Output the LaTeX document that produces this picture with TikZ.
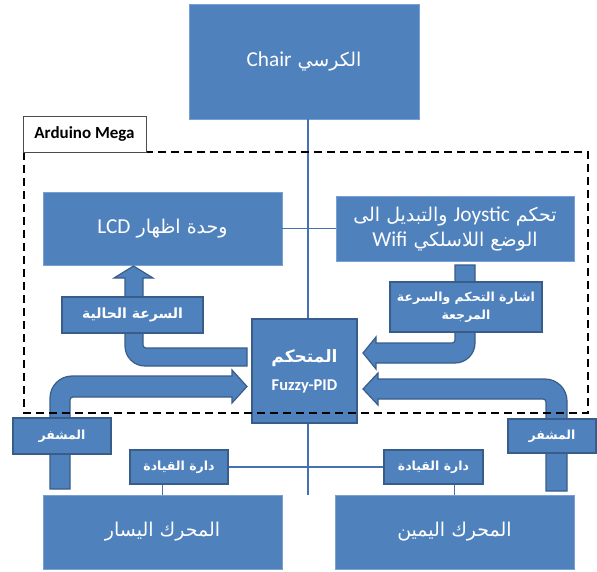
\documentclass[tikz,border=0pt]{standalone}
\usepackage{fontspec}
\setmainfont{Carlito}
\newfontfamily\latinfont[Scale=1.12]{Carlito}
\newfontfamily\arabicfont[Script=Arabic]{DejaVu Sans}
\TeXXeTstate=1
\usepackage{tikz}
\usetikzlibrary{positioning,calc}
\definecolor{boxblue}{RGB}{79,129,189}
\definecolor{boxedge}{RGB}{56,93,138}
\definecolor{lightedge}{RGB}{120,160,210}
\definecolor{wireblue}{RGB}{68,114,176}
\newcommand{\artext}[1]{{\arabicfont\beginR #1\endR}}
\newcommand{\lat}[1]{\beginL{\latinfont #1}\endL}
\tikzset{
  big box/.style={
    draw=lightedge,
    fill=boxblue,
    line width=0.8pt,
    text=white,
    inner sep=0pt,
    align=center,
    font=\fontsize{19}{28}\selectfont
  },
  tag box/.style={
    draw=boxedge,
    fill=boxblue,
    line width=1.5pt,
    text=white,
    inner sep=0pt,
    align=center,
    font=\fontsize{12.5}{18}\selectfont\bfseries
  },
  wire/.style={
    draw=wireblue,
    line width=1.5pt
  },
  fat arrow/.style={
    draw=boxedge,
    fill=boxblue,
    line width=1.2pt,
    line join=miter
  },
  mega frame/.style={
    draw=black,
    line width=2.2pt,
    dash pattern=on 8pt off 5pt
  }
}

\begin{document}
\begin{tikzpicture}[x=1pt,y=-1pt]
  \useasboundingbox (0,0) rectangle (597,572);
  \coordinate (spine) at (308,0);

  % Main blocks
  \node[big box, minimum width=230pt, minimum height=115pt] (chair) at (304,61.5) {\artext{الكرسي \lat{Chair}}};
  \node[big box, minimum width=239pt, minimum height=73pt] (lcd) at (162.5,228.5) {\artext{وحدة اظهار \lat{LCD}}};
  \node[big box, minimum width=238pt, minimum height=65pt] (joy) at (455,228.5) {\artext{تحكم \lat{Joystic} والتبديل الى}\\[-3pt] \artext{الوضع اللاسلكي \lat{Wifi}}};
  \node[big box, minimum width=239pt, minimum height=74pt] (motL) at (162.5,532) {\artext{المحرك اليسار}};
  \node[big box, minimum width=239pt, minimum height=74pt] (motR) at (454.5,532) {\artext{المحرك اليمين}};

  % Connections
  \draw[wire] (chair.south -| spine) -- (spine |- motL.north) coordinate (bus);
  \draw[wire] (lcd.east) -- (joy.west);

  % Signal arrows
  \draw[fat arrow] (247,348) -- (146,348) .. controls (144.3,348) and (143,346.7) .. (143,345)
    -- (143,278) -- (153,278) -- (133.5,266) -- (114,278) -- (125,278) -- (125,346)
    .. controls (125,357.05) and (133.95,366) .. (145,366) -- (247,366) -- cycle;
  \draw[fat arrow] (455,265) -- (475,265) -- (475,343)
    .. controls (475,354.05) and (466.05,363) .. (455,363) -- (376,363) -- (376,369)
    -- (363,353) -- (376,337) -- (376,343) -- (452,343)
    .. controls (453.7,343) and (455,341.7) .. (455,340) -- cycle;
  \draw[fat arrow] (546,491) -- (546,402) .. controls (546,400.3) and (544.7,399) .. (543,399)
    -- (378,399) -- (378,405) -- (363,389) -- (378,373) -- (378,379) -- (545,379)
    .. controls (557.15,379) and (567,388.85) .. (567,401) -- (567,491) -- cycle;
  \draw[fat arrow] (50,489) -- (50,398) .. controls (50,385.85) and (59.85,376) .. (72,376)
    -- (232,376) -- (232,370) -- (247,386.5) -- (232,403) -- (232,397) -- (73,397)
    .. controls (71.3,397) and (70,398.3) .. (70,400) -- (70,489) -- cycle;

  % Controller
  \node[big box, draw=boxedge, line width=1.2pt, minimum width=105pt, minimum height=104pt,
    font=\bfseries] (ctrl) at (304.5,371)
    {{\fontsize{17}{20}\selectfont\artext{المتحكم}}\\[12pt] {\fontsize{16.5}{18}\selectfont Fuzzy-PID}};

  % Small labels
  \node[tag box, minimum width=141pt, minimum height=36pt, font=\fontsize{14}{18}\selectfont\bfseries] (cur) at (132.5,315) {\artext{السرعة الحالية}};
  \node[tag box, minimum width=152pt, minimum height=50pt] (ref) at (466,307) {\artext{اشارة التحكم والسرعة}\\ \artext{المرجعة}};
  \node[tag box, minimum width=98pt, minimum height=36pt] (encL) at (62,436) {\artext{المشفر}};
  \node[tag box, minimum width=88pt, minimum height=34pt] (encR) at (552,436) {\artext{المشفر}};
  \node[tag box, minimum width=98pt, minimum height=34pt] (drvL) at (179,467) {\artext{دارة القيادة}};
  \node[tag box, minimum width=99pt, minimum height=34pt] (drvR) at (433.5,467) {\artext{دارة القيادة}};

  % Drivers to motors
  \draw[wire] (drvL.east) -- (drvR.west);
  \draw[wire] (motL.north |- drvL.south) -- (motL.north);
  \draw[wire] (motR.north |- drvR.south) -- (motR.north);

  % Arduino board
  \draw[mega frame] (24,152) rectangle (588,413);
  \node[draw=black!70, fill=white, line width=0.8pt, minimum width=123pt, minimum height=36pt,
    inner sep=0pt, font=\fontsize{17}{18}\selectfont\bfseries] (mega) at (84.5,134) {Arduino Mega};
\end{tikzpicture}
\end{document}
